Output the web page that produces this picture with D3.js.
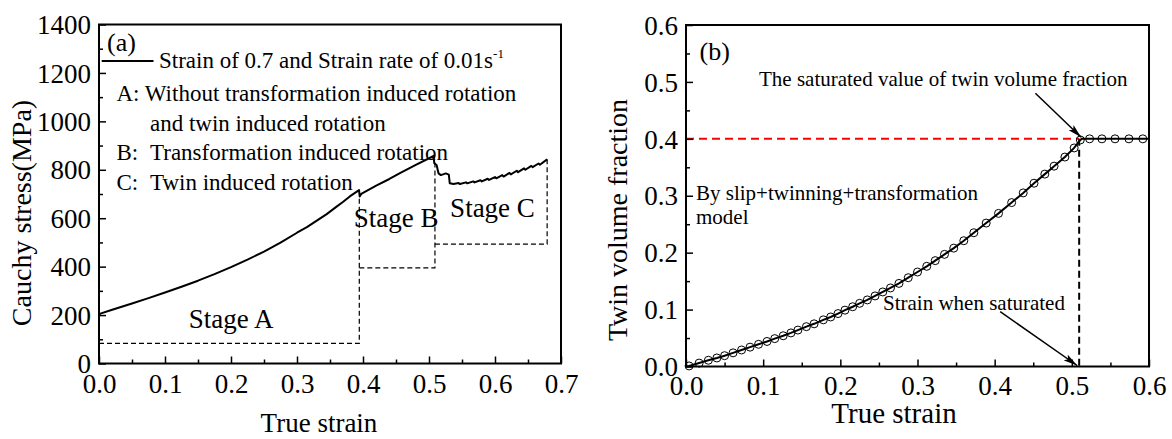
<!DOCTYPE html>
<html>
<head>
<meta charset="utf-8">
<script src="https://cdn.jsdelivr.net/npm/d3@7/dist/d3.min.js"></script>
<style>
  html, body { margin: 0; padding: 0; background: #fff; }
  svg { display: block; }
</style>
</head>
<body>
<script>
// ---------------- DATA ----------------
// Panel (a): Cauchy stress vs true strain
const stressStrainX = [0, 0, 0.002, 0.02, 0.05, 0.075, 0.1, 0.125, 0.15, 0.175, 0.2, 0.225, 0.25, 0.275,
  0.3, 0.315, 0.33, 0.345, 0.36, 0.37, 0.38, 0.394,
  0.395, 0.398, 0.42, 0.44, 0.456, 0.48, 0.507,
  0.508, 0.5115, 0.5145, 0.518, 0.5255, 0.530, 0.5315, 0.537,
  0.545, 0.547, 0.556, 0.558, 0.567, 0.569, 0.578, 0.580, 0.589, 0.591, 0.600, 0.602,
  0.611, 0.613, 0.622, 0.624, 0.633, 0.635, 0.644, 0.646, 0.655, 0.657, 0.666, 0.668, 0.679];
const stressStrainY = [0, 200, 206, 222, 248, 270, 293, 317, 342, 369, 398, 429, 462, 499,
  540, 563, 590, 617, 648, 668, 690, 716,
  690, 702, 735, 762, 786, 820, 857,
  827, 820, 785, 778, 785, 780, 744, 741,
  745, 741, 748, 744, 752, 748, 757, 752, 763, 758, 770, 765,
  778, 772, 787, 781, 796, 790, 806, 800, 816, 811, 826, 821, 843];
const stageNames = ["Stage A", "Stage B", "Stage C"];
const stageStart = [0, 0.3944, 0.509];
const stageEnd = [0.3944, 0.509, 0.679];
const stageBase = [83, 395, 493];
const stageTop = [690, 845, 843];
const xTicksA = [0, 0.1, 0.2, 0.3, 0.4, 0.5, 0.6, 0.7];
const yTicksA = [0, 200, 400, 600, 800, 1000, 1200, 1400];
const legendA = "Strain of 0.7 and Strain rate of 0.01s";
const notesA = ["A: Without transformation induced rotation", "and twin induced rotation",
  "B:", "Transformation induced rotation", "C:", "Twin induced rotation"];

// Panel (b): Twin volume fraction vs true strain
const twinStrain = [0.004, 0.017, 0.029, 0.040, 0.050, 0.061, 0.072, 0.083, 0.094, 0.105,
  0.115, 0.126, 0.136, 0.145, 0.156, 0.166, 0.178, 0.1875, 0.197, 0.206,
  0.216, 0.225, 0.235, 0.245, 0.255, 0.265, 0.276, 0.288, 0.300, 0.312,
  0.323, 0.335, 0.347, 0.360, 0.373, 0.389, 0.405, 0.422, 0.437, 0.451,
  0.465, 0.477, 0.491, 0.503, 0.511, 0.523, 0.539, 0.556, 0.574, 0.592];
const twinFraction = [0.001, 0.006, 0.011, 0.015, 0.019, 0.024, 0.029, 0.034, 0.039, 0.044,
  0.049, 0.054, 0.059, 0.064, 0.070, 0.075, 0.082, 0.087, 0.093, 0.099,
  0.105, 0.111, 0.117, 0.124, 0.131, 0.138, 0.146, 0.156, 0.166, 0.176,
  0.186, 0.197, 0.208, 0.221, 0.235, 0.252, 0.269, 0.288, 0.305, 0.322,
  0.338, 0.352, 0.368, 0.384, 0.398, 0.400, 0.400, 0.400, 0.400, 0.400];
const lineStartB = [0, 0];
const cornerB = [0.513, 0.4];
const lineEndB = [0.6, 0.4];
const saturatedValue = 0.4;
const saturatedStrain = 0.5095;
const xTicksB = [0, 0.1, 0.2, 0.3, 0.4, 0.5, 0.6];
const yTicksB = [0, 0.1, 0.2, 0.3, 0.4, 0.5, 0.6];

// ---------------- DRAW ----------------
const W = 1172, H = 439;
const FONT = "'Liberation Serif','Times New Roman',Times,serif";
const svg = d3.select("body").append("svg").attr("width", W).attr("height", H)
  .style("background", "#fff").attr("font-family", FONT);
svg.append("rect").attr("width", W).attr("height", H).attr("fill", "#fff");

const defs = svg.append("defs");
defs.append("marker").attr("id", "arrow").attr("viewBox", "0 0 14 8")
  .attr("refX", 14).attr("refY", 4).attr("markerWidth", 14).attr("markerHeight", 8)
  .attr("markerUnits", "userSpaceOnUse").attr("orient", "auto")
  .append("path").attr("d", "M0,0.5 L14,4 L0,7.5 L3,4 Z").attr("fill", "#000");

function midTicks(ticks) {
  const out = [];
  for (let i = 0; i < ticks.length - 1; i++) out.push((ticks[i] + ticks[i + 1]) / 2);
  return out;
}

function drawAxes(x, y, xt, yt, xfmt, yfmt, xPad, fs) {
  const g = svg.append("g");
  const [x0, x1] = x.range();
  const [y0, y1] = y.range();
  const gb = g.append("g").attr("transform", `translate(0,${y0})`)
    .call(d3.axisBottom(x).tickValues(xt).tickFormat(d3.format(xfmt)).tickSizeInner(-7).tickSizeOuter(0).tickPadding(xPad));
  gb.append("g").call(d3.axisBottom(x).tickValues(midTicks(xt)).tickFormat("").tickSizeInner(-4).tickSizeOuter(0));
  const gl = g.append("g").attr("transform", `translate(${x0},0)`)
    .call(d3.axisLeft(y).tickValues(yt).tickFormat(d3.format(yfmt)).tickSizeInner(-7).tickSizeOuter(0).tickPadding(8));
  gl.append("g").call(d3.axisLeft(y).tickValues(midTicks(yt)).tickFormat("").tickSizeInner(-4).tickSizeOuter(0));
  g.selectAll("g").attr("font-family", FONT);
  g.selectAll(".domain").remove();
  g.selectAll(".tick line").attr("stroke", "#000").attr("stroke-width", 1.5);
  g.selectAll(".tick text").attr("fill", "#000").attr("font-family", FONT)
    .style("font-family", FONT).style("font-size", fs + "px");
  gl.selectAll(".tick text").attr("dy", "0.34em");
  g.append("rect").attr("x", x0).attr("y", y1).attr("width", x1 - x0).attr("height", y0 - y1)
    .attr("fill", "none").attr("stroke", "#000").attr("stroke-width", 2);
  return g;
}

function addText(t, x, y, fs, opts = {}) {
  const el = svg.append("text").attr("x", x).attr("y", y).attr("font-size", fs)
    .attr("fill", "#000").attr("font-family", FONT).style("font-family", FONT).text(t);
  if (opts.anchor) el.attr("text-anchor", opts.anchor);
  if (opts.rotate) el.attr("transform", `rotate(-90,${x},${y})`);
  return el;
}

// ===== Panel (a) =====
const xA = d3.scaleLinear().domain([0, 0.7]).range([99, 561]);
const yA = d3.scaleLinear().domain([0, 1400]).range([363.5, 24.5]);

const stageG = svg.append("g").attr("fill", "none").attr("stroke", "#000")
  .attr("stroke-width", 1.2).attr("stroke-dasharray", "5,3");
stageNames.forEach((s, i) => {
  stageG.append("path").attr("d",
    `M${xA(stageStart[i])},${yA(stageBase[i])} L${xA(stageEnd[i])},${yA(stageBase[i])} L${xA(stageEnd[i])},${yA(stageTop[i])}`);
});

const lineA = d3.line().x((d, i) => xA(stressStrainX[i])).y((d, i) => yA(stressStrainY[i]));
svg.append("path").datum(stressStrainX).attr("d", lineA)
  .attr("fill", "none").attr("stroke", "#000").attr("stroke-width", 2).attr("stroke-linejoin", "round");

drawAxes(xA, yA, xTicksA, yTicksA, ".1f", "d", 10, 27);

addText(stageNames[0], xA(0.136), yA(147), 27);
addText(stageNames[1], xA(0.386), yA(563), 27);
addText(stageNames[2], xA(0.532), yA(605), 27);

addText("(a)", 107, 51, 26);
svg.append("line").attr("x1", 101.7).attr("x2", 153.5).attr("y1", 61).attr("y2", 61)
  .attr("stroke", "#000").attr("stroke-width", 2);
const leg = addText(legendA, 159, 68, 23);
leg.append("tspan").attr("font-size", 13).attr("dy", -10).text("-1");
addText(notesA[0], 116.5, 101, 23);
addText(notesA[1], 150, 130.5, 23);
addText(notesA[2], 116.5, 160, 23);
addText(notesA[3], 150, 160, 23);
addText(notesA[4], 116.5, 190, 23);
addText(notesA[5], 150, 190, 23);

addText("Cauchy stress(MPa)", 31, 213, 28, { anchor: "middle", rotate: true });
addText("True strain", 319, 432, 27, { anchor: "middle" });

// ===== Panel (b) =====
const xB = d3.scaleLinear().domain([0, 0.6]).range([686, 1149]);
const yB = d3.scaleLinear().domain([0, 0.6]).range([366.5, 25]);

svg.append("line").attr("x1", xB(0)).attr("x2", xB(saturatedStrain)).attr("y1", yB(saturatedValue)).attr("y2", yB(saturatedValue))
  .attr("stroke", "#f00").attr("stroke-width", 2).attr("stroke-dasharray", "8,5");
svg.append("line").attr("x1", xB(saturatedStrain)).attr("x2", xB(saturatedStrain)).attr("y1", yB(saturatedValue)).attr("y2", yB(0))
  .attr("stroke", "#000").attr("stroke-width", 2).attr("stroke-dasharray", "7,4");

const ptsB = [lineStartB].concat(twinStrain.map((s, i) => [s, twinFraction[i]])).concat([lineEndB]);
ptsB.splice(46, 0, cornerB);
svg.append("path").datum(ptsB).attr("d", d3.line().x(d => xB(d[0])).y(d => yB(d[1])))
  .attr("fill", "none").attr("stroke", "#000").attr("stroke-width", 2);
svg.append("g").selectAll("circle").data(twinStrain).join("circle")
  .attr("cx", d => xB(d)).attr("cy", (d, i) => yB(twinFraction[i])).attr("r", 4)
  .attr("fill", "none").attr("stroke", "#000").attr("stroke-width", 1);

drawAxes(xB, yB, xTicksB, yTicksB, ".1f", ".1f", 9.5, 27);

addText("(b)", 699.5, 60, 26);
addText("The saturated value of twin volume fraction", 759, 86.4, 21);
svg.append("line").attr("x1", 1035.4).attr("y1", 93.2).attr("x2", xB(saturatedStrain) + 2).attr("y2", yB(saturatedValue) - 1.5)
  .attr("stroke", "#000").attr("stroke-width", 1.5).attr("marker-end", "url(#arrow)");
addText("By slip+twinning+transformation", 696, 200, 21);
addText("model", 696, 224, 21);
addText("Strain when saturated", 883, 310, 21);
svg.append("line").attr("x1", 1000.2).attr("y1", 311.7).attr("x2", xB(saturatedStrain) - 2).attr("y2", yB(0) - 1)
  .attr("stroke", "#000").attr("stroke-width", 1.5).attr("marker-end", "url(#arrow)");

addText("Twin volume fraction", 627, 220, 28, { anchor: "middle", rotate: true });
addText("True strain", 894, 423, 29, { anchor: "middle" });
</script>
</body>
</html>
